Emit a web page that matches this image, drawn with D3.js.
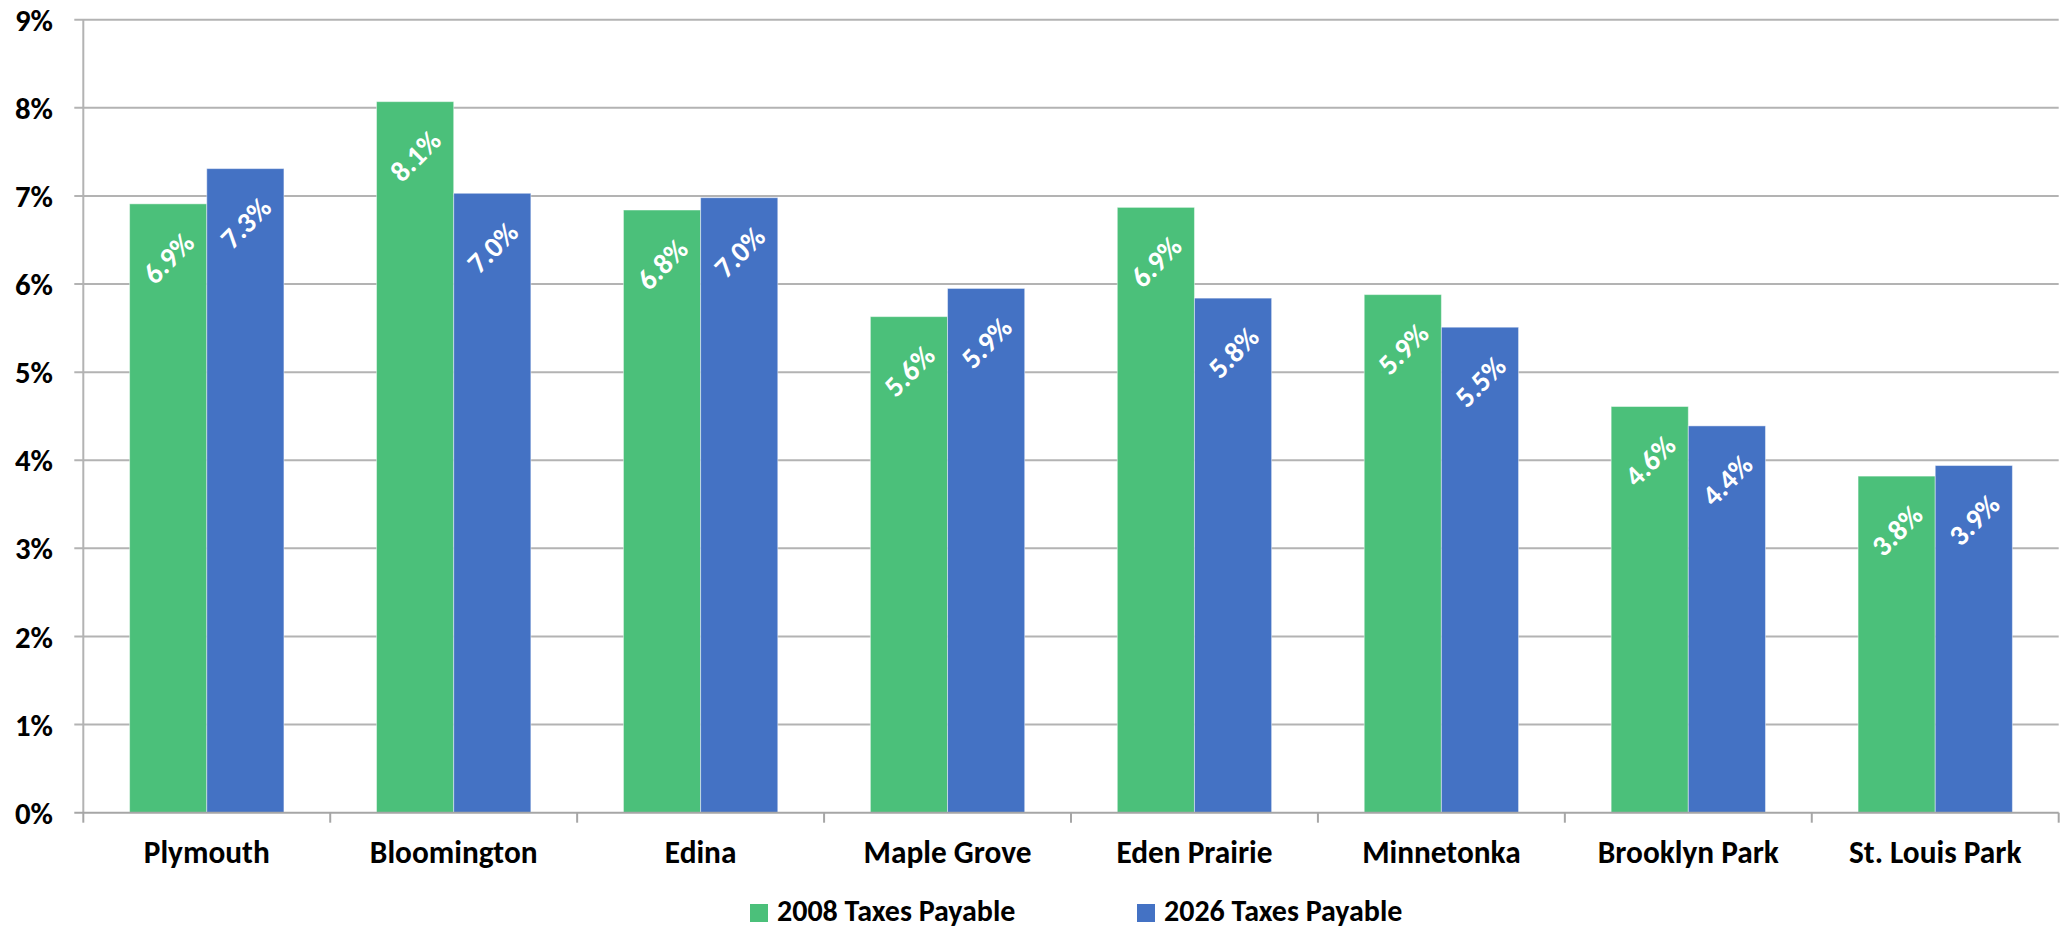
<!DOCTYPE html>
<html>
<head>
<meta charset="utf-8">
<script src="https://cdn.jsdelivr.net/npm/d3@7"></script>
<style>
  html, body { margin: 0; padding: 0; background: #fff; }
  svg { display: block; }
  text { font-family: Carlito, Lato, "Open Sans", sans-serif; font-weight: 700; }
</style>
</head>
<body>
<svg id="chart" width="2062" height="931"></svg>
<script>
const categories = ["Plymouth", "Bloomington", "Edina", "Maple Grove", "Eden Prairie", "Minnetonka", "Brooklyn Park", "St. Louis Park"];
const seriesNames = ["2008 Taxes Payable", "2026 Taxes Payable"];
const values2008 = [6.91, 8.07, 6.84, 5.63, 6.87, 5.88, 4.61, 3.82];
const values2026 = [7.31, 7.03, 6.98, 5.95, 5.84, 5.51, 4.39, 3.94];
const labels2008 = ["6.9%", "8.1%", "6.8%", "5.6%", "6.9%", "5.9%", "4.6%", "3.8%"];
const labels2026 = ["7.3%", "7.0%", "7.0%", "5.9%", "5.8%", "5.5%", "4.4%", "3.9%"];
const yTicks = [0, 1, 2, 3, 4, 5, 6, 7, 8, 9];
const colors = ["#4BC07A", "#4472C4"];

const svg = d3.select("#chart");
const mLeft = 83.3, mRight = 2058.7, mTop = 19.7, mBottom = 812.7;

// fit a font size so that a sample string reaches a target width
function fitSize(sample, target, base) {
  const t = svg.append("text").attr("font-size", base).text(sample);
  const w = t.node().getComputedTextLength();
  t.remove();
  return w > 0 ? base * target / w : base;
}
const fsX = Math.min(32, fitSize("Plymouth", 126, 28));
const fsY = Math.min(32, fitSize("0%", 38, 28));
const fsLeg = Math.min(30, fitSize("2008 Taxes Payable", 256, 28));
const fsLab = Math.min(30, fitSize("3.9%", 58, 26));

const x = d3.scaleBand().domain(categories).range([mLeft, mRight]).paddingInner(0).paddingOuter(0);
const y = d3.scaleLinear().domain([0, 9]).range([mBottom, mTop]);
// gap width 120% => bars take 2/(2+1.2) of band
const barW = x.bandwidth() / 3.2;
const gapHalf = barW * 0.6;
const sub = d3.scaleBand().domain([0, 1]).range([gapHalf, gapHalf + 2 * barW]);

// gridlines
svg.append("g").selectAll("line").data(yTicks.filter(d => d > 0)).join("line")
  .attr("x1", mLeft - 9).attr("x2", mRight)
  .attr("y1", d => y(d)).attr("y2", d => y(d))
  .attr("stroke", "#b3b3b3").attr("stroke-width", 2);

// y axis line
svg.append("line").attr("x1", mLeft).attr("x2", mLeft).attr("y1", mTop).attr("y2", mBottom)
  .attr("stroke", "#b3b3b3").attr("stroke-width", 2);

// y labels
svg.append("g").selectAll("text").data(yTicks).join("text")
  .attr("x", 53).attr("y", d => y(d)).attr("dy", "0.36em")
  .attr("text-anchor", "end").attr("font-size", fsY).attr("fill", "#000")
  .text(d => d + "%");

// bars
const series = [values2008, values2026];
const labelsAll = [labels2008, labels2026];
series.forEach((vals, si) => {
  const g = svg.append("g");
  g.selectAll("rect").data(categories).join("rect")
    .attr("x", (c) => x(c) + sub(si))
    .attr("width", sub.bandwidth())
    .attr("y", (c, i) => y(vals[i]))
    .attr("height", (c, i) => mBottom - y(vals[i]))
    .attr("fill", colors[si])
    .attr("stroke", "#ffffff").attr("stroke-opacity", 0.45).attr("stroke-width", 1);
  g.selectAll("text").data(categories).join("text")
    .attr("transform", (c, i) => `translate(${x(c) + sub(si) + sub.bandwidth() / 2},${y(vals[i]) + 54}) rotate(-45)`)
    .attr("text-anchor", "middle").attr("dy", "0.36em")
    .attr("font-size", fsLab).attr("fill", "#fff")
    .text((c, i) => labelsAll[si][i]);
});

// x axis line and ticks
svg.append("line").attr("x1", mLeft - 9).attr("x2", mRight).attr("y1", mBottom).attr("y2", mBottom)
  .attr("stroke", "#a6a6a6").attr("stroke-width", 2);
const tickPos = categories.map(c => x(c)).concat([mRight]);
svg.append("g").selectAll("line").data(tickPos).join("line")
  .attr("x1", d => d).attr("x2", d => d).attr("y1", mBottom).attr("y2", mBottom + 10)
  .attr("stroke", "#a6a6a6").attr("stroke-width", 2);

// x labels
svg.append("g").selectAll("text").data(categories).join("text")
  .attr("x", c => x(c) + x.bandwidth() / 2).attr("y", 863)
  .attr("text-anchor", "middle").attr("font-size", fsX).attr("fill", "#000")
  .text(c => c);

// legend
const legendX = [750, 1137];
const lg = svg.append("g");
seriesNames.forEach((name, i) => {
  lg.append("rect").attr("x", legendX[i]).attr("y", 904).attr("width", 18).attr("height", 18).attr("fill", colors[i]);
  lg.append("text").attr("x", legendX[i] + 27).attr("y", 921).attr("font-size", fsLeg).attr("fill", "#000").text(name);
});
</script>
</body>
</html>
